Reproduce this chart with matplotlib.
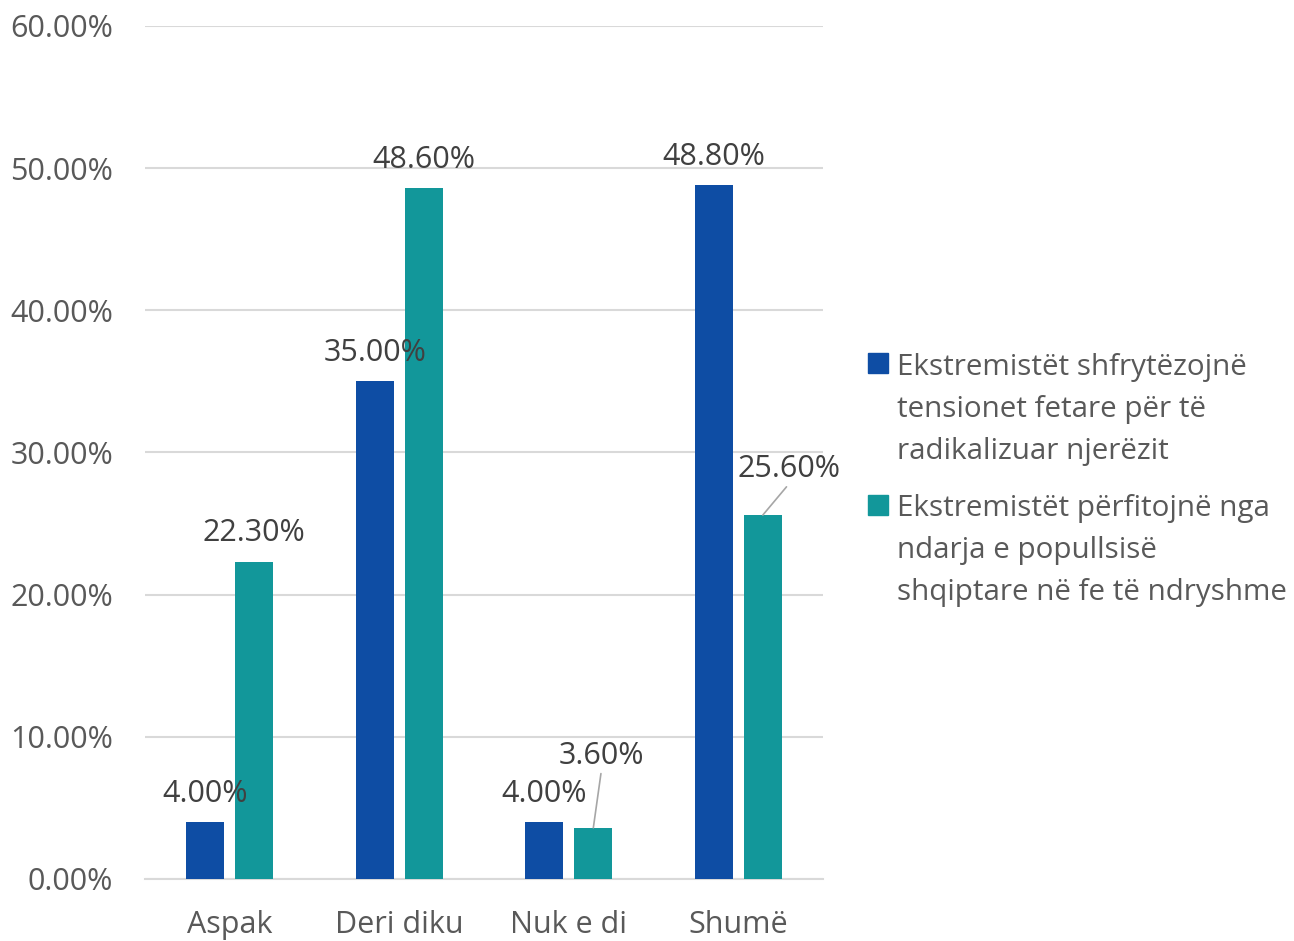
import numpy as np
import matplotlib
matplotlib.use("Agg")
import matplotlib.pyplot as plt
import matplotlib.ticker as ticker
from matplotlib.patches import Rectangle

plt.rcParams['font.family'] = ['Open Sans', 'DejaVu Sans']

categories = ['Aspak', 'Deri diku', 'Nuk e di', 'Shumë']
series_names = ['Ekstremistët shfrytëzojnë\ntensionet fetare për të\nradikalizuar njerëzit',
                'Ekstremistët përfitojnë nga\nndarja e popullsisë\nshqiptare në fe të ndryshme']
shfrytezojne = [0.04, 0.35, 0.04, 0.488]
perfitojne = [0.223, 0.486, 0.036, 0.256]
colors = ['#0E4DA4', '#12979A']
text_color = '#595959'
fs = 22
fs_leg = 21.3

# label offsets in pixels (Excel moved a couple of labels)
offsets = [[(0, 28), (0, 28), (0, 28), (0, 28)],
           [(0, 29), (0, 28), (8, 72), (26, 46)]]

fig = plt.figure(figsize=(12.94, 9.41), dpi=100)
ax = fig.add_axes([145/1294, 62/941, 678/1294, 853/941])

x = np.arange(len(categories))
w = 0.225
shift = 0.145
for i, (vals, off) in enumerate(zip([shfrytezojne, perfitojne], [-shift, shift])):
    bars = ax.bar(x + off, vals, w, color=colors[i], zorder=3)
    for j, b in enumerate(bars):
        dx, dy = offsets[i][j]
        xy = (b.get_x() + b.get_width() / 2, b.get_height())
        kw = {}
        if dx != 0 or dy > 40:
            kw['arrowprops'] = dict(arrowstyle='-', color='#A6A6A6', lw=1.2,
                                    shrinkA=0, shrinkB=0, relpos=(0.5, 0.0))
        ax.annotate(f'{vals[j]:.2%}', xy=xy, xytext=(dx, dy), textcoords='offset pixels',
                    ha='center', va='center', fontsize=fs, color='#404040', zorder=6, **kw)

ax.set_xlim(-0.5, 3.5)
ax.set_ylim(0, 0.6)
ax.set_xticks(x)
ax.set_xticklabels(categories)
ax.yaxis.set_major_locator(ticker.MultipleLocator(0.1))
ax.yaxis.set_major_formatter(ticker.FuncFormatter(lambda v, p: f'{v:.2%}'))
ax.tick_params(axis='both', length=0, labelsize=fs, colors=text_color)
ax.tick_params(axis='y', pad=23)
ax.tick_params(axis='x', pad=22)
ax.grid(axis='y', color='#D9D9D9', lw=1.5, zorder=0)
for s in ['top', 'right', 'left']:
    ax.spines[s].set_visible(False)
ax.spines['bottom'].set_color('#D9D9D9')
ax.spines['bottom'].set_linewidth(1.5)

# legend drawn by hand so the square sits on the first line
first_base = [373, 515]
last_base = [459, 600]
for i, name in enumerate(series_names):
    fig.patches.append(Rectangle((868/1294, 1 - first_base[i]/941), 20/1294, 20/941,
                                 transform=fig.transFigure, color=colors[i]))
    fig.text(897/1294, 1 - last_base[i]/941, name, ha='left', va='baseline',
             fontsize=fs_leg, color=text_color, linespacing=1.6)

fig.savefig('out.png', dpi=100)
